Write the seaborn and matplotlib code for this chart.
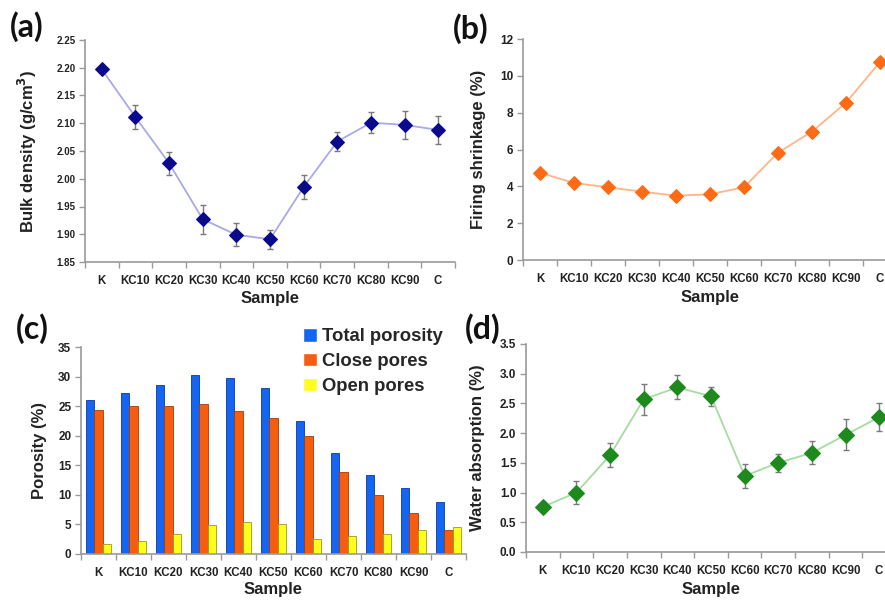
import numpy as np
import pandas as pd
import matplotlib
matplotlib.use("Agg")
import matplotlib.pyplot as plt
from matplotlib.ticker import FixedLocator, FormatStrFormatter
import seaborn as sns

# ==========================================
# data
# ==========================================
samples = ["K", "KC10", "KC20", "KC30", "KC40", "KC50", "KC60", "KC70", "KC80", "KC90", "C"]

bulk_density = [2.197, 2.111, 2.028, 1.927, 1.899, 1.891, 1.985, 2.067, 2.101, 2.097, 2.088]
bulk_density_err = [0.006, 0.021, 0.021, 0.026, 0.021, 0.017, 0.022, 0.017, 0.019, 0.025, 0.025]

shrinkage = [4.74, 4.18, 3.95, 3.71, 3.49, 3.57, 3.95, 5.83, 6.97, 8.54, 10.75]

total_porosity = [26.1, 27.2, 28.5, 30.3, 29.7, 28.1, 22.5, 17.0, 13.4, 11.1, 8.8]
close_pores = [24.3, 25.0, 25.0, 25.3, 24.1, 23.0, 19.9, 13.9, 10.0, 7.0, 4.1]
open_pores = [1.7, 2.2, 3.4, 4.9, 5.4, 5.1, 2.6, 3.1, 3.4, 4.0, 4.6]
porosity_labels = ["Total porosity", "Close pores", "Open pores"]

water_abs = [0.76, 1.00, 1.63, 2.57, 2.77, 2.62, 1.28, 1.50, 1.67, 1.97, 2.27]
water_abs_err = [0.08, 0.20, 0.20, 0.26, 0.20, 0.16, 0.20, 0.15, 0.19, 0.26, 0.24]

# ==========================================
# figure / layout (pixel based)
# ==========================================
W, H = 885, 601
sns.set_theme(style="white")
plt.rcParams["font.family"] = ["Liberation Sans", "DejaVu Sans"]

fig = plt.figure(figsize=(W / 100, H / 100), dpi=100)


def px_axes(l, t, r, b):
    return fig.add_axes([l / W, 1 - b / H, (r - l) / W, (b - t) / H])


ax_a = px_axes(85, 40, 455, 262)
ax_b = px_axes(523, 39, 897, 260)
ax_c = px_axes(81, 347, 466, 554)
ax_d = px_axes(526, 344, 896, 552)

spine_col = "#9a9a9a"


def style_axis(ax, ylim, yticks, fmt, ylabel, ylab_off, xlab_off, ytick_size=8):
    l, b, w, h = ax.get_position().bounds
    wpx, hpx = w * W, h * H
    ax.set_xlim(-0.5, len(samples) - 0.5)
    ax.set_ylim(*ylim)
    ax.yaxis.set_major_locator(FixedLocator(yticks))
    ax.yaxis.set_major_formatter(FormatStrFormatter(fmt))
    ax.set_xticks(range(len(samples)))
    ax.set_xticklabels(samples)
    ax.xaxis.set_minor_locator(FixedLocator(np.arange(-0.5, len(samples) + 0.5, 1.0)))
    ax.tick_params(axis="x", which="major", length=0, pad=9, labelsize=8.3)
    ax.tick_params(axis="x", which="minor", length=4, width=1, color=spine_col, direction="out", bottom=True)
    ax.tick_params(axis="y", length=4, width=1, color=spine_col, direction="out", left=True,
                   labelsize=ytick_size, pad=3)
    for lab in ax.get_xticklabels() + ax.get_yticklabels():
        lab.set_fontweight("bold")
        lab.set_color("#222222")
    for s in ["top", "right"]:
        ax.spines[s].set_visible(False)
    for s in ["left", "bottom"]:
        ax.spines[s].set_color(spine_col)
        ax.spines[s].set_linewidth(1.2)
    ax.set_xlabel("Sample", fontsize=12, fontweight="bold", color="#222222")
    ax.set_ylabel(ylabel, fontsize=12, fontweight="bold", color="#222222")
    ax.xaxis.set_label_coords(0.5, -xlab_off / hpx)
    ax.yaxis.set_label_coords(-ylab_off / wpx, 0.5)
    ax.grid(False)
    ax.set_facecolor("none")


def line_panel(ax, vals, errs, line_col, mark_col, msize):
    sns.lineplot(x=samples, y=vals, ax=ax, color=line_col, lw=1.3, sort=False,
                 marker="D", markersize=msize, markerfacecolor=mark_col,
                 markeredgecolor=mark_col, zorder=3)
    if errs is not None:
        ax.errorbar(range(len(samples)), vals, yerr=errs, fmt="none", ecolor="#7a7a7a",
                    elinewidth=1.0, capsize=2.5, capthick=1.0, zorder=2)


# (a) bulk density
line_panel(ax_a, bulk_density, bulk_density_err, "#a9a9ea", "#0a0a8c", 7)
style_axis(ax_a, (1.85, 2.25), np.arange(1.85, 2.251, 0.05), "%.2f",
           "Bulk density (g/cm$^\\mathbf{3}$)", 46, 29, ytick_size=7)

# (b) firing shrinkage
line_panel(ax_b, shrinkage, None, "#ffb48a", "#ff6a14", 7.5)
style_axis(ax_b, (0, 12), np.arange(0, 12.1, 2), "%d", "Firing shrinkage (%)", 37, 30, ytick_size=8.5)

# (c) porosity bars
df_por = pd.DataFrame({
    "Sample": samples * 3,
    "Porosity": total_porosity + close_pores + open_pores,
    "Type": [porosity_labels[0]] * len(samples) + [porosity_labels[1]] * len(samples)
            + [porosity_labels[2]] * len(samples),
})
bar_cols = ["#1466f2", "#f55d10", "#ffff1c"]
edge_cols = ["#0a3a9a", "#a63a05", "#9a9a20"]
sns.barplot(data=df_por, x="Sample", y="Porosity", hue="Type", palette=bar_cols,
            width=0.72, gap=0, ax=ax_c, saturation=1)
for i, cont in enumerate(ax_c.containers):
    for p in cont:
        p.set_edgecolor(edge_cols[i])
        p.set_linewidth(0.6)
handles, labels = ax_c.get_legend_handles_labels()
ax_c.legend(handles, labels, loc="upper left", bbox_to_anchor=(303 / W, 1 - 328 / H),
            bbox_transform=fig.transFigure, frameon=False,
            prop={"weight": "bold", "size": 13.3}, handlelength=0.75, handleheight=0.75,
            handletextpad=0.3, labelspacing=0.42, borderaxespad=0, borderpad=0)
style_axis(ax_c, (0, 35), np.arange(0, 35.1, 5), "%d", "Porosity (%)", 34, 28, ytick_size=8.5)

# (d) water absorption
line_panel(ax_d, water_abs, water_abs_err, "#a6dca0", "#1e8a1e", 8)
style_axis(ax_d, (0, 3.5), np.arange(0, 3.51, 0.5), "%.1f", "Water absorption (%)", 41, 30, ytick_size=8.5)

# panel letters
for txt, x, y in [("(a)", 10, 37), ("(b)", 453, 39), ("(c)", 16, 339), ("(d)", 465, 339)]:
    fig.text(x / W, 1 - y / H, txt, fontsize=23, fontweight="bold", family="Lato", color="#111111")

fig.savefig("out.png", dpi=100)
